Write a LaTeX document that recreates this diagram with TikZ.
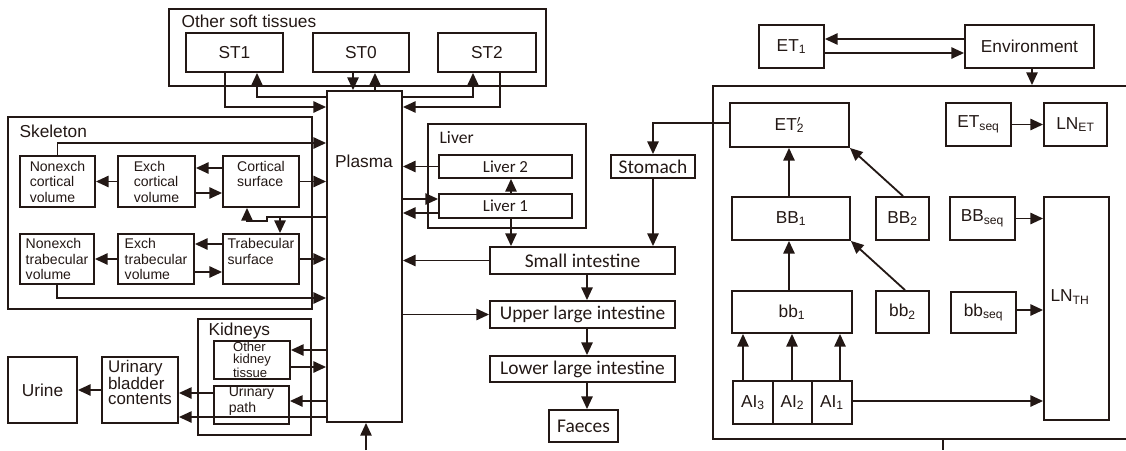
\documentclass[tikz,border=0pt]{standalone}
\usepackage{fontspec}
\setmainfont{Liberation Sans}
\newfontfamily\calfont{Carlito}
\usetikzlibrary{arrows.meta}
\definecolor{ink}{HTML}{231815}
\tikzset{
  box/.style={draw, inner sep=0pt, align=center},
  arr/.style={-{Triangle[length=9pt,width=8pt]}},
  small/.style={align=left, font=\fontsize{10}{11}\selectfont},
  gut/.style={font=\calfont\fontsize{13.8}{15}\selectfont},
}
\begin{document}
\begin{tikzpicture}[x=0.025cm,y=-0.025cm,line width=1.3pt,color=ink,font=\fontsize{12.3}{14}\selectfont]
\useasboundingbox (0,0) rectangle (1126,450);
% other soft tissues
\draw (169,9) rectangle (546,86);
\node[anchor=west] (softlab) at (176,21) {Other soft tissues};
\node[box, minimum width=2.425cm, minimum height=0.975cm] (st1) at (234.5,52.5) {ST1};
\node[box, minimum width=2.4cm, minimum height=0.975cm] (st0) at (361,52.5) {ST0};
\node[box, minimum width=2.45cm, minimum height=0.975cm] (st2) at (487,52.5) {ST2};
% plasma
\node[box, minimum width=1.875cm, minimum height=8.275cm] (plasma) at (364.5,256.5) {};
\node (plasmalab) at (364,161) {Plasma};
% skeleton
\draw (8,117) rectangle (312,309);
\node[anchor=west] (skellab) at (14,131) {Skeleton};
\node[box, small, minimum width=1.875cm, minimum height=1.275cm] (ncv) at (57.5,181.5) {Nonexch\\cortical\\volume};
\node[box, small, minimum width=1.925cm, minimum height=1.275cm] (ecv) at (156.5,181.5) {Exch\\cortical\\volume};
\node[box, small, minimum width=1.9cm, minimum height=1.275cm] (csurf) at (261,181.5) {Cortical\\surface\\\mbox{}};
\node[box, small, minimum width=1.85cm, minimum height=1.25cm] (ntv) at (57,259) {Nonexch\\trabecular\\volume};
\node[box, small, minimum width=1.9cm, minimum height=1.25cm] (etv) at (156,259) {Exch\\trabecular\\volume};
\node[box, small, minimum width=1.9cm, minimum height=1.25cm] (tsurf) at (261,259) {Trabecular\\surface\\\mbox{}};
% kidneys and bladder
\draw (198,319) rectangle (311,435);
\node[anchor=west] (kidlab) at (203,331) {Kidneys};
\node[box, align=left, font=\fontsize{9.3}{8.6}\selectfont, minimum width=1.9cm, minimum height=0.95cm] (okt) at (252,360) {Other\\kidney\\tissue};
\node[box, small, minimum width=1.875cm, minimum height=0.95cm] (upath) at (251.5,405) {Urinary\\path\\[-3pt]\mbox{}};
\node[box, align=left, font=\fontsize{12}{10.7}\selectfont, minimum width=1.9cm, minimum height=1.65cm] (ubc) at (140,390) {Urinary\\bladder\\contents\\\mbox{}};
\node[box, minimum width=1.725cm, minimum height=1.65cm] (urine) at (42.5,390) {Urine};
% liver and gut
\draw (428,124) rectangle (586,228);
\node[anchor=west, font=\calfont\fontsize{12.5}{14}\selectfont] (livlab) at (434,138) {Liver};
\node[box, font=\calfont\fontsize{12}{14}\selectfont, minimum width=3.325cm, minimum height=0.575cm] (liver2) at (505.5,166.5) {Liver 2};
\node[box, font=\calfont\fontsize{12}{14}\selectfont, minimum width=3.325cm, minimum height=0.6cm] (liver1) at (505.5,206) {Liver 1};
\node[box, gut, minimum width=2.1cm, minimum height=0.575cm] (stom) at (653,166.5) {Stomach};
\node[box, gut, minimum width=4.625cm, minimum height=0.675cm] (si) at (582.5,260.5) {Small intestine};
\node[box, gut, minimum width=4.625cm, minimum height=0.675cm] (uli) at (582.5,314.5) {Upper large intestine};
\node[box, gut, minimum width=4.625cm, minimum height=0.65cm] (lli) at (582.5,369) {Lower large intestine};
\node[box, gut, minimum width=1.725cm, minimum height=0.8cm] (faec) at (583.5,426) {Faeces};
% environment side
\node[box, minimum width=10.675cm, minimum height=8.825cm] (fate) at (926.5,262.5) {};
\node[box, minimum width=3.225cm, minimum height=1.075cm] (env) at (1029.5,46.5) {Environment};
\node[box, minimum width=1.625cm, minimum height=1.075cm] (et1) at (791.5,46.5) {ET\textsubscript{1}};
\node[box, minimum width=2.975cm, minimum height=1.1cm] (et2) at (789.5,125) {ET\rlap{$'$}\textsubscript{2}};
\node[box, minimum width=1.625cm, minimum height=1.075cm] (etseq) at (978.5,124.5) {ET\textsubscript{seq}};
\node[box, minimum width=1.575cm, minimum height=1.075cm] (lnet) at (1075.5,124.5) {LN\textsubscript{ET}};
\node[box, minimum width=2.95cm, minimum height=1.075cm] (BB1) at (791,218.5) {BB\textsubscript{1}};
\node[box, minimum width=1.325cm, minimum height=1.075cm] (BB2) at (902.5,218.5) {BB\textsubscript{2}};
\node[box, minimum width=1.625cm, minimum height=1.075cm] (BBs) at (982.5,218.5) {BB\textsubscript{seq}};
\node[box, minimum width=1.625cm, minimum height=5.575cm] (lnth) at (1076.5,308.5) {};
\node (lnthlab) at (1070,297) {LN\textsubscript{TH}};
\node[box, minimum width=3cm, minimum height=1.05cm] (bb1) at (792,312) {bb\textsubscript{1}};
\node[box, minimum width=1.325cm, minimum height=1.05cm] (bb2) at (902.5,312) {bb\textsubscript{2}};
\node[box, minimum width=1.625cm, minimum height=1.025cm] (bbs) at (983.5,312.5) {bb\textsubscript{seq}};
\node[box, minimum width=1cm, minimum height=1.075cm] (ai3) at (753,402.5) {AI\textsubscript{3}};
\node[box, minimum width=0.975cm, minimum height=1.075cm] (ai2) at (792.5,402.5) {AI\textsubscript{2}};
\node[box, minimum width=1cm, minimum height=1.075cm] (ai1) at (832,402.5) {AI\textsubscript{1}};
% soft tissue exchange
\draw[arr] (225,0 |- st1.south) |- (plasma.west |- 0,107);
\draw[arr] (plasma.west |- 0,97) -| (257,0 |- st1.south);
\draw[arr] (353,0 |- st0.south) -- (353,0 |- plasma.north);
\draw[arr] (375,0 |- plasma.north) -- (375,0 |- st0.south);
\draw[arr] (plasma.east |- 0,97) -| (473,0 |- st2.south);
\draw[arr] (500,0 |- st2.south) |- (plasma.east |- 0,107);
% skeleton
\draw[arr] (ncv.north) |- (plasma.west |- 0,143);
\draw[arr] (csurf.west |- 0,168) -- (ecv.east |- 0,168);
\draw[arr] (ecv.east |- 0,193) -- (csurf.west |- 0,193);
\draw[arr] (ecv.west) -- (ncv.east);
\draw[arr] (csurf.east) -- (plasma.west |- csurf.east);
\draw[arr] (plasma.west |- 0,217) -| (267,221) -| (247,0 |- csurf.south);
\coordinate (split) at (280,217);
\draw[arr] (split) -- (split |- tsurf.north);
\draw[arr] (tsurf.west |- 0,244) -- (etv.east |- 0,244);
\draw[arr] (etv.east |- 0,272) -- (tsurf.west |- 0,272);
\draw[arr] (etv.west) -- (ntv.east);
\draw[arr] (tsurf.east) -- (plasma.west |- tsurf.east);
\draw[arr] (ntv.south) |- (plasma.west |- 0,298);
% kidneys
\draw[arr] (plasma.west |- 0,350) -- (okt.east |- 0,350);
\draw[arr] (okt.east |- 0,367) -- (plasma.west |- 0,367);
\draw[arr] (plasma.west |- 0,401) -- (upath.east |- 0,401);
\draw[arr] (upath.west |- 0,393) -- (ubc.east |- 0,393);
\draw[arr] (plasma.west |- 0,417) -- (ubc.east |- 0,417);
\draw[arr] (ubc.west) -- (urine.east);
\coordinate (inflow) at (366,450);
\draw[arr] (inflow) -- (inflow |- plasma.south);
% liver and gut
\draw[arr] (liver2.west) -- (plasma.east |- liver2.west);
\draw[arr] (511,0 |- liver1.north) -- (511,0 |- liver2.south);
\draw[arr] (plasma.east |- 0,199) -- (liver1.west |- 0,199);
\draw[arr] (liver1.west |- 0,213) -- (plasma.east |- 0,213);
\draw[arr] (511,0 |- liver1.south) -- (511,0 |- si.north);
\draw[arr] (si.west) -- (plasma.east |- si.west);
\draw[arr] (plasma.east |- uli.west) -- (uli.west);
\draw[arr] (587,0 |- si.south) -- (587,0 |- uli.north);
\draw[arr] (587,0 |- uli.south) -- (587,0 |- lli.north);
\draw[arr] (587,0 |- lli.south) -- (587,0 |- faec.north);
\draw[arr] (stom.south) -- (stom.south |- si.north);
\draw[arr] (et2.west |- 0,123) -| (stom.north);
% environment side
\draw[arr] (env.west |- 0,39) -- (et1.east |- 0,39);
\draw[arr] (et1.east |- 0,53) -- (env.west |- 0,53);
\draw[arr] (1032,0 |- env.south) -- (1032,0 |- fate.north);
\coordinate (out) at (943,450);
\draw (out |- fate.south) -- (out);
\draw[arr] (etseq.east) -- (lnet.west);
\draw[arr] (789,0 |- BB1.north) -- (789,0 |- et2.south);
\draw[arr] (903,0 |- BB2.north) -- (et2.south east);
\draw[arr] (BBs.east) -- (lnth.west |- BBs.east);
\draw[arr] (789,0 |- bb1.north) -- (789,0 |- BB1.south);
\draw[arr] (905,0 |- bb2.north) -- (BB1.south east);
\draw[arr] (bbs.east |- 0,310) -- (lnth.west |- 0,310);
\draw[arr] (743,0 |- ai3.north) -- (743,0 |- bb1.south);
\draw[arr] (792,0 |- ai2.north) -- (792,0 |- bb1.south);
\draw[arr] (840,0 |- ai1.north) -- (840,0 |- bb1.south);
\draw[arr] (ai1.east |- 0,401) -- (lnth.west |- 0,401);
\end{tikzpicture}
\end{document}
